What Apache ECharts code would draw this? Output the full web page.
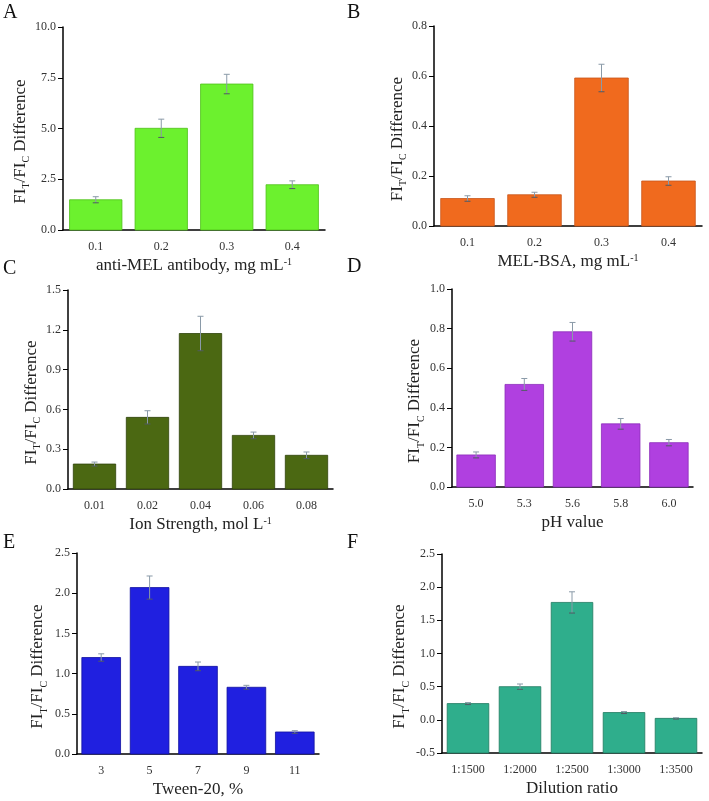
<!DOCTYPE html>
<html>
<head>
<meta charset="UTF-8">
<script src="https://cdn.jsdelivr.net/npm/echarts@6/dist/echarts.min.js"></script>
<style>
  html, body { margin: 0; padding: 0; background: #fff; }
  #main { width: 709px; height: 801px; }
</style>
</head>
<body>
<div id="main"></div>
<script type="text/javascript">
// Panel data
const catsA = ['0.1', '0.2', '0.3', '0.4'];
const valsA = [1.49, 5.01, 7.19, 2.23];
const errA = [0.15, 0.45, 0.48, 0.19];

const catsB = ['0.1', '0.2', '0.3', '0.4'];
const valsB = [0.110, 0.125, 0.592, 0.180];
const errB = [0.011, 0.010, 0.055, 0.017];

const catsC = ['0.01', '0.02', '0.04', '0.06', '0.08'];
const valsC = [0.188, 0.540, 1.172, 0.404, 0.254];
const errC = [0.015, 0.050, 0.130, 0.025, 0.025];

const catsD = ['5.0', '5.3', '5.6', '5.8', '6.0'];
const valsD = [0.162, 0.518, 0.784, 0.319, 0.224];
const errD = [0.015, 0.030, 0.047, 0.027, 0.016];

const catsE = ['3', '5', '7', '9', '11'];
const valsE = [1.20, 2.07, 1.09, 0.83, 0.274];
const errE = [0.046, 0.144, 0.054, 0.024, 0.016];

const catsF = ['1:1500', '1:2000', '1:2500', '1:3000', '1:3500'];
const valsF = [0.245, 0.500, 1.770, 0.110, 0.022];
const errF = [0.015, 0.040, 0.160, 0.015, 0.010];

const FONT = '"Liberation Serif", "Times New Roman", serif';

const panels = [
    { label: 'A', cats: catsA, vals: valsA, err: errA, color: '#6cf12e', border: '#4fc01a',
      min: 0, max: 10, interval: 2.5, xname: 'anti-MEL antibody, mg mL', sup: '-1',
      grid: { left: 63, top: 27, width: 262, height: 203 }, nameGap: 31, lx: 3, ly: 3 },
    { label: 'B', cats: catsB, vals: valsB, err: errB, color: '#f06a1e', border: '#c8561a',
      min: 0, max: 0.8, interval: 0.2, xname: 'MEL-BSA, mg mL', sup: '-1',
      grid: { left: 434, top: 26, width: 268, height: 200 }, nameGap: 25, lx: 347, ly: 3 },
    { label: 'C', cats: catsC, vals: valsC, err: errC, color: '#4b6812', border: '#2f420a',
      min: 0, max: 1.5, interval: 0.3, xname: 'Ion Strength, mol L', sup: '-1',
      grid: { left: 68, top: 290, width: 265, height: 199 }, nameGap: 24, lx: 3, ly: 259 },
    { label: 'D', cats: catsD, vals: valsD, err: errD, color: '#b040e0', border: '#8c2cba',
      min: 0, max: 1.0, interval: 0.2, xname: 'pH value', sup: '',
      grid: { left: 452, top: 289, width: 241, height: 198 }, nameGap: 26, lx: 347, ly: 257 },
    { label: 'E', cats: catsE, vals: valsE, err: errE, color: '#2020e0', border: '#1010a0',
      min: 0, max: 2.5, interval: 0.5, xname: 'Tween-20, %', sup: '',
      grid: { left: 77, top: 553, width: 242, height: 201 }, nameGap: 28, lx: 3, ly: 533 },
    { label: 'F', cats: catsF, vals: valsF, err: errF, color: '#2fae8c', border: '#1f7a60',
      min: -0.5, max: 2.5, interval: 0.5, xname: 'Dilution ratio', sup: '',
      grid: { left: 442, top: 554, width: 260, height: 199 }, nameGap: 31, lx: 347, ly: 533 }
];

const grids = [], xAxes = [], yAxes = [], series = [], graphics = [];

panels.forEach((p, i) => {
    grids.push(p.grid);
    xAxes.push({
        type: 'category',
        gridIndex: i,
        data: p.cats,
        name: p.sup ? '{n|' + p.xname + '}{p|' + p.sup + '}' : p.xname,
        nameLocation: 'middle',
        nameGap: 27,
        nameTextStyle: {
            fontFamily: FONT, fontSize: 17, color: '#222',
            rich: {
                n: { fontFamily: FONT, fontSize: 17, color: '#222' },
                p: { fontFamily: FONT, fontSize: 10, color: '#222', verticalAlign: 'top' }
            }
        },
        axisLine: { show: true, onZero: false, lineStyle: { color: '#000', width: 1.5 } },
        axisTick: { show: false },
        axisLabel: { fontFamily: FONT, fontSize: 12, color: '#333', margin: 11 },
        splitLine: { show: false }
    });
    yAxes.push({
        type: 'value',
        gridIndex: i,
        min: p.min,
        max: p.max,
        interval: p.interval,
        name: '{n|FI}{s|T}{n|/FI}{s|C}{n| Difference}',
        nameLocation: 'middle',
        nameGap: p.nameGap,
        nameTextStyle: {
            fontFamily: FONT, fontSize: 17, color: '#222',
            padding: [0, 26, 0, 0],
            rich: {
                n: { fontFamily: FONT, fontSize: 17, color: '#222', lineHeight: 22 },
                s: { fontFamily: FONT, fontSize: 10, color: '#222', lineHeight: 22, verticalAlign: 'bottom' }
            }
        },
        axisLine: { show: true, onZero: false, lineStyle: { color: '#000', width: 1.5 } },
        axisTick: { show: true, inside: false, length: 5, lineStyle: { color: '#000' } },
        axisLabel: {
            fontFamily: FONT, fontSize: 12, color: '#333', margin: 7,
            formatter: v => v.toFixed(1)
        },
        splitLine: { show: false }
    });
    const base = p.min;
    series.push({
        type: 'custom',
        xAxisIndex: i,
        yAxisIndex: i,
        data: p.vals.map((v, k) => [k, v, p.err[k]]),
        renderItem: function (params, api) {
            const k = api.value(0);
            const v = api.value(1);
            const e = api.value(2);
            const top = api.coord([k, v]);
            const bot = api.coord([k, base]);
            const w = api.size([1, 0])[0] * 0.8;
            const hi = api.coord([k, v + e]);
            const lo = api.coord([k, v - e]);
            const cap = 3;
            return {
                type: 'group',
                children: [
                    {
                        type: 'rect',
                        shape: { x: top[0] - w / 2, y: top[1], width: w, height: bot[1] - top[1] },
                        style: { fill: p.color, stroke: p.border, lineWidth: 0.8 }
                    },
                    {
                        type: 'line',
                        shape: { x1: hi[0], y1: hi[1], x2: lo[0], y2: lo[1] },
                        style: { stroke: '#8a9aa8', lineWidth: 1 }
                    },
                    {
                        type: 'line',
                        shape: { x1: hi[0] - cap, y1: hi[1], x2: hi[0] + cap, y2: hi[1] },
                        style: { stroke: '#8a9aa8', lineWidth: 1 }
                    },
                    {
                        type: 'line',
                        shape: { x1: lo[0] - cap, y1: lo[1], x2: lo[0] + cap, y2: lo[1] },
                        style: { stroke: '#505a64', lineWidth: 1 }
                    }
                ]
            };
        }
    });
    graphics.push({
        type: 'text',
        left: p.lx,
        top: p.ly,
        style: { text: p.label, font: '20px ' + FONT, fill: '#111' }
    });
});

const chart = echarts.init(document.getElementById('main'));
chart.setOption({
    backgroundColor: '#fff',
    animation: false,
    grid: grids,
    xAxis: xAxes,
    yAxis: yAxes,
    series: series,
    graphic: graphics
});
</script>
</body>
</html>
